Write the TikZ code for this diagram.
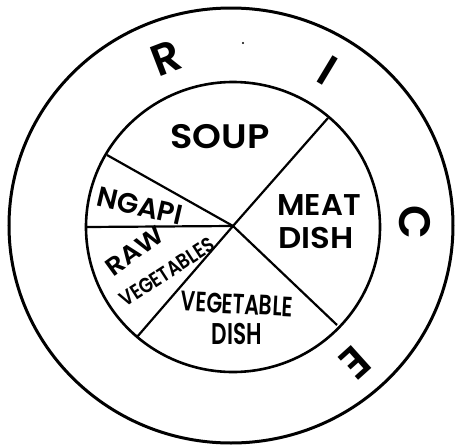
\documentclass[tikz,border=0pt]{standalone}
\usepackage{fontspec}
\setmainfont{Poppins}[BoldFont={* SemiBold}]
\begin{document}
\begin{tikzpicture}[x=1pt,y=-1pt,
  outer/.style={line width=3pt},
  inner/.style={line width=2.6pt},
  spoke/.style={line width=2.2pt, line join=round},
  lab/.style={font=\bfseries, inner sep=0pt, anchor=center},
  ring/.style={font=\bfseries\fontsize{44}{44}\selectfont, inner sep=0pt, anchor=center}]
\useasboundingbox (0,0) rectangle (456,445);
\draw[outer] (231,225.5) ellipse [x radius=222, y radius=217.5];
\draw[inner] (233,227) ellipse [x radius=147, y radius=145];
\coordinate (c) at (233,226);
\coordinate (ur) at (328,118);
\coordinate (ul) at (107,155);
\coordinate (l) at (86,227);
\coordinate (ll) at (137,337);
\coordinate (lr) at (337,325);
\draw[spoke] (ur) -- (c) -- (ll);
\draw[spoke] (ul) -- (c) -- (lr);
\draw[spoke] (l) -- (c);
\fill (243,43) circle [radius=1.1];
% sector labels
\node[lab] (soup) at (220,137) {\scalebox{1.08}[1]{\fontsize{34}{34}\selectfont SOUP}};
\node[lab] (meat) at (319,205) {\scalebox{1.02}[1]{\fontsize{30}{30}\selectfont MEAT}};
\node[lab] (dish1) at (316,238) {\scalebox{1.08}[1]{\fontsize{30}{30}\selectfont DISH}};
\node[lab, rotate=-13] (ngapi) at (140,206) {\scalebox{1.0}[1]{\fontsize{28}{28}\selectfont NGAPI}};
\node[lab, rotate=36] (raw) at (135,251) {\scalebox{1.1}[1]{\fontsize{25}{25}\selectfont RAW}};
\node[lab, rotate=33] (rawveg) at (167,272) {\scalebox{0.85}[1]{\fontsize{21}{21}\selectfont VEGETABLES}};
\node[lab, rotate=-3] (veg) at (237,304) {\scalebox{0.73}[1]{\fontsize{28}{28}\selectfont VEGETABLE}};
\node[lab] (dish2) at (237,334) {\scalebox{0.72}[1]{\fontsize{30}{30}\selectfont DISH}};
% ring letters
\node[ring, rotate=21] (r) at (166,58) {R};
\node[ring, rotate=-31] (i) at (328,70) {I};
\node[ring, rotate=-90] (cc) at (415,222) {C};
\node[ring, rotate=-138] (e) at (355,363) {E};
\end{tikzpicture}
\end{document}
